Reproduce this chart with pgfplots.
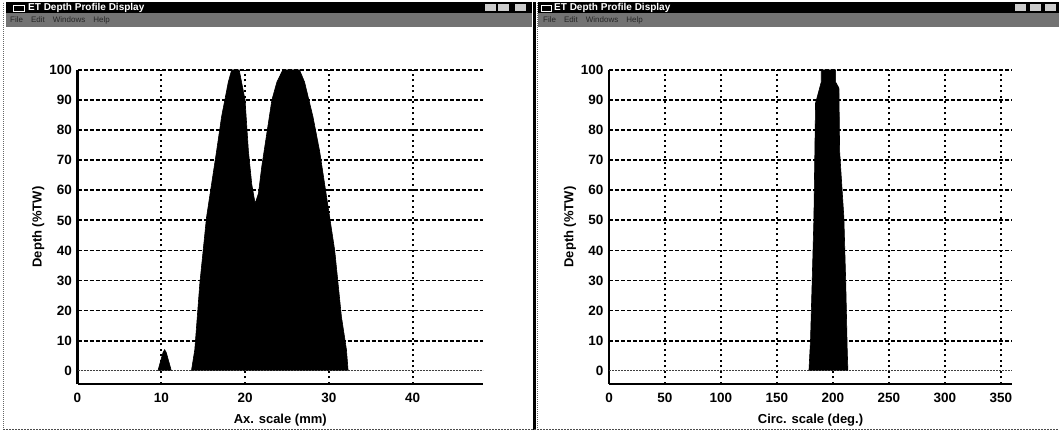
\documentclass[border=0pt]{standalone}
\usepackage{pgfplots}
\pgfplotsset{compat=1.18}
\usepackage{fontspec}
\setmainfont{Liberation Sans}

\pgfplotstableread{
x y
9.6 0
9.9 3
10.2 6
10.4 7
10.6 6
10.9 3
11.2 0
}\smallpeak

\pgfplotstableread{
x y
13.6 0
14.0 7
14.6 29
15.4 51
16.6 73
17.2 84.5
18.0 96
18.4 100
19.3 100
20.0 90
20.4 73
20.8 62
21.2 55.6
21.6 59
22.0 68
22.6 79
23.2 90
23.8 96
24.5 100
26.5 100
27.1 96
28.1 84.5
28.9 73
29.5 62
30.1 51
30.7 40
31.1 29
31.5 18
32.1 7
32.3 0
}\axprofile

\pgfplotstableread{
x y
178.6 0
180.0 10
183.0 50
184.5 89
186.0 91
189.6 96
189.6 100
202.4 100
202.4 96
205.4 94
206.0 73
209.8 51
211.5 29
212.8 7
213.4 0
}\circprofile

\pgfplotsset{
  deptheax/.style={
    scale only axis,
    height=314bp,
    ymin=-4.42, ymax=100,
    axis lines*=left,
    axis line style={line width=2.2bp, black},
    ytick={10,20,...,100},
    extra y ticks={0},
    extra y tick style={grid=none},
    major tick length=0pt,
    xmajorgrids, ymajorgrids,
    every axis y grid/.style={black, line width=1.8bp, dash pattern=on 4bp off 2bp},
    every axis x grid/.style={black, line width=2bp, dash pattern=on 2bp off 3.5bp},
    tick label style={font=\fontsize{13.5bp}{15bp}\selectfont\bfseries},
    label style={font=\fontsize{13bp}{15bp}\selectfont\bfseries},
    /pgf/number format/assume math mode=true,
    ylabel={Depth (\%TW)},
    ylabel style={at={(axis description cs:-0.097,0.5)}, anchor=center, rotate=0},
    xlabel style={at={(axis description cs:0.5,-0.115)}, anchor=center},
    yticklabel style={xshift=-2bp},
    xticklabel style={yshift=-6bp},
  }
}

\begin{document}
\begin{tikzpicture}
\useasboundingbox (0bp,0bp) rectangle (1059bp,432bp);
\fill[white] (0bp,0bp) rectangle (1059bp,432bp);

% ---- window chrome (left) ----
\fill[black] (6bp,418.5bp) rectangle (532bp,429.5bp);
\fill[black!55] (6bp,405bp) rectangle (532bp,418.5bp);
\draw[white, line width=0.8bp] (13bp,420.5bp) rectangle (24bp,426.5bp);
\node[anchor=west, text=white, font=\fontsize{10bp}{11bp}\selectfont\bfseries, inner sep=0pt] at (28bp,424bp) {ET Depth Profile Display};
\node[anchor=west, text=black!85, font=\fontsize{8bp}{9bp}\selectfont, inner sep=0pt] at (10bp,411.5bp) {File\quad Edit\quad Windows\quad Help};
\foreach \bx in {485,498,515}{\fill[black!20] (\bx bp,420.5bp) rectangle ++(11bp,7.5bp);}
% ---- window chrome (right) ----
\fill[black] (538bp,418.5bp) rectangle (1059bp,429.5bp);
\fill[black!55] (538bp,405bp) rectangle (1059bp,418.5bp);
\draw[white, line width=0.8bp] (541bp,420.5bp) rectangle (551bp,426.5bp);
\node[anchor=west, text=white, font=\fontsize{10bp}{11bp}\selectfont\bfseries, inner sep=0pt] at (554bp,424bp) {ET Depth Profile Display};
\node[anchor=west, text=black!85, font=\fontsize{8bp}{9bp}\selectfont, inner sep=0pt] at (543bp,411.5bp) {File\quad Edit\quad Windows\quad Help};
\foreach \bx in {1015,1030,1045}{\fill[black!20] (\bx bp,420.5bp) rectangle ++(11bp,7.5bp);}
% borders
\draw[black!60, line width=1bp, dash pattern=on 1bp off 1bp] (3bp,2bp) -- (3bp,430bp);
\draw[black, line width=2.2bp] (534.5bp,2bp) -- (534.5bp,430bp);
\draw[black!60, line width=1bp, dash pattern=on 1bp off 1bp] (537.5bp,2bp) -- (537.5bp,430bp);
\draw[black!70, line width=1bp, dash pattern=on 2bp off 1bp] (3bp,2bp) -- (1059bp,2bp);

% ---- left chart ----
\begin{axis}[deptheax,
  at={(77.5bp,48bp)}, anchor=south west,
  width=405.5bp,
  xmin=0, xmax=48.4,
  xtick={0,10,20,30,40},
  xlabel={Ax. scale (mm)},
]
\addplot[black!75, line width=0.7bp, dash pattern=on 2bp off 1bp] coordinates {(0,0) (48.4,0)};
\addplot[fill=black, draw=black, line width=0.6bp] table[x=x,y=y] {\smallpeak};
\addplot[fill=black, draw=black, line width=0.6bp] table[x=x,y=y] {\axprofile};
\end{axis}

% ---- right chart ----
\begin{axis}[deptheax,
  at={(609bp,48bp)}, anchor=south west,
  width=403bp,
  xmin=0, xmax=360,
  xtick={0,50,...,350},
  xlabel={Circ. scale (deg.)},
]
\addplot[black!75, line width=0.7bp, dash pattern=on 2bp off 1bp] coordinates {(0,0) (360,0)};
\addplot[fill=black, draw=black, line width=0.6bp] table[x=x,y=y] {\circprofile};
\end{axis}
\end{tikzpicture}
\end{document}
